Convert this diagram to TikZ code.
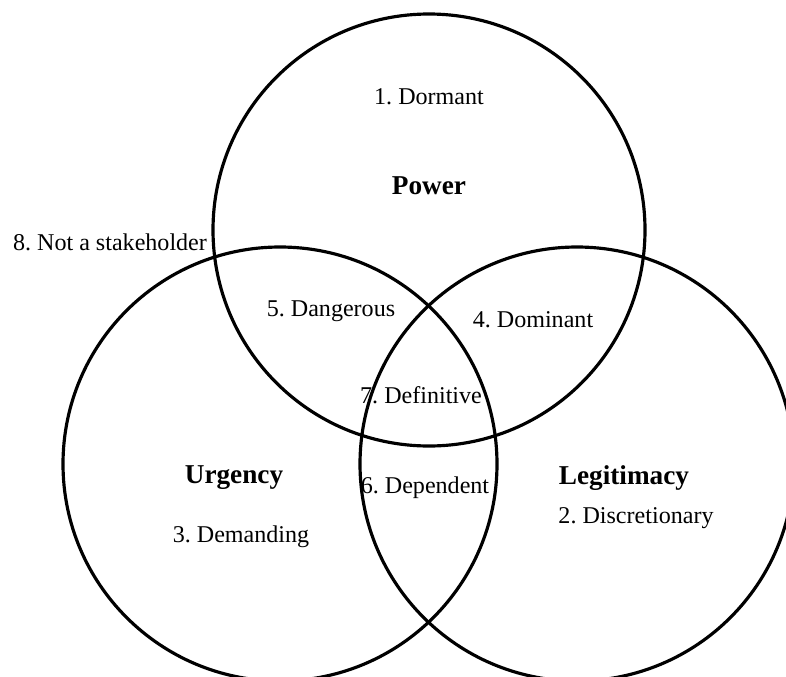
\documentclass[tikz,border=0pt]{standalone}
\usepackage{fontspec}
\setmainfont{Liberation Serif}
\frenchspacing

\begin{document}
\begin{tikzpicture}[x=0.02cm, y=-0.02cm,
		font=\fontsize{13.7}{16}\selectfont,
		ring/.style={draw=black, line width=1.8pt},
		title/.style={font=\fontsize{15.5}{18}\selectfont\bfseries}]
	\useasboundingbox (0, 0) rectangle (786, 676);
	\clip (0, 0) rectangle (786, 676);

	\draw[ring] (429, 230) circle [radius=216];
	\draw[ring] (280, 464) circle [radius=217];
	\draw[ring] (577, 464) circle [radius=217];

	\node (dormant)       at (429, 97)  {1. Dormant};
	\node[title] (power)  at (429, 186) {Power};
	\node (notstake)      at (110, 242) {8. Not a stakeholder};
	\node (dangerous)     at (331, 311) {5. Dangerous};
	\node (dominant)      at (533, 320) {4. Dominant};
	\node (definitive)    at (421, 395) {7. Definitive};
	\node[title] (urgency) at (234, 478) {Urgency};
	\node (demanding)     at (241, 537) {3. Demanding};
	\node (dependent)     at (425, 488) {6. Dependent};
	\node[title] (legitimacy) at (624, 478) {Legitimacy};
	\node (discretionary) at (636, 518) {2. Discretionary};
\end{tikzpicture}
\end{document}
